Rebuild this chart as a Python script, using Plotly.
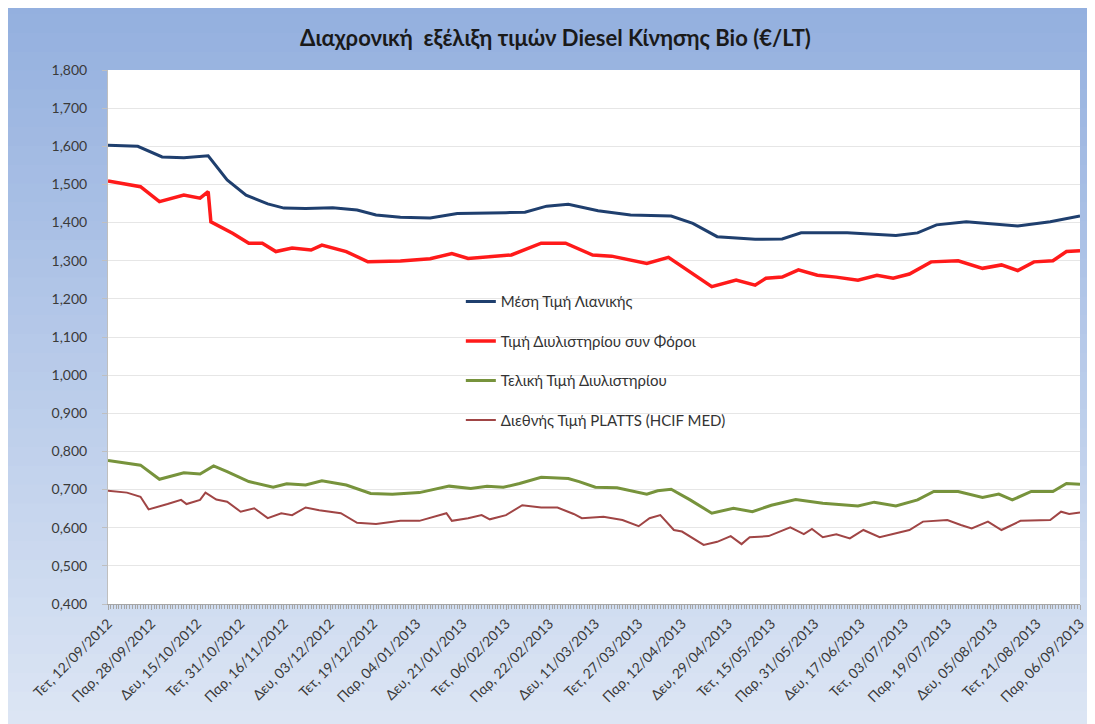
import plotly.graph_objects as go

# ---------------- data ----------------
retail_dates = ["2012-09-12", "2012-09-23", "2012-10-02", "2012-10-10", "2012-10-19", "2012-10-26",
                "2012-11-02", "2012-11-10", "2012-11-16", "2012-11-24", "2012-12-04", "2012-12-13",
                "2012-12-20", "2012-12-29", "2013-01-09", "2013-01-19", "2013-02-06", "2013-02-13",
                "2013-02-21", "2013-03-01", "2013-03-12", "2013-03-24", "2013-04-08", "2013-04-16",
                "2013-04-25", "2013-05-09", "2013-05-19", "2013-05-26", "2013-06-12", "2013-06-30",
                "2013-07-08", "2013-07-15", "2013-07-26", "2013-08-14", "2013-08-26", "2013-09-06"]
retail = [1.603, 1.600, 1.572, 1.570, 1.575, 1.512,
          1.472, 1.449, 1.438, 1.437, 1.439, 1.433,
          1.420, 1.414, 1.412, 1.424, 1.426, 1.427,
          1.443, 1.448, 1.431, 1.420, 1.417, 1.398,
          1.363, 1.356, 1.357, 1.373, 1.373, 1.366,
          1.373, 1.394, 1.402, 1.391, 1.402, 1.417]

refinery_tax_dates = ["2012-09-12", "2012-09-24", "2012-10-01", "2012-10-10", "2012-10-16", "2012-10-19",
                      "2012-10-20", "2012-10-28", "2012-11-03", "2012-11-08", "2012-11-13", "2012-11-19",
                      "2012-11-26", "2012-11-30", "2012-12-09", "2012-12-17", "2012-12-29", "2013-01-09",
                      "2013-01-17", "2013-01-23", "2013-02-08", "2013-02-19", "2013-02-28", "2013-03-10",
                      "2013-03-17", "2013-03-30", "2013-04-07", "2013-04-16", "2013-04-23", "2013-05-02",
                      "2013-05-09", "2013-05-13", "2013-05-19", "2013-05-25", "2013-06-01", "2013-06-08",
                      "2013-06-16", "2013-06-23", "2013-06-29", "2013-07-05", "2013-07-13", "2013-07-23",
                      "2013-08-01", "2013-08-08", "2013-08-14", "2013-08-20", "2013-08-27", "2013-09-01",
                      "2013-09-06"]
refinery_tax = [1.509, 1.494, 1.455, 1.472, 1.464, 1.481,
                1.402, 1.372, 1.346, 1.346, 1.324, 1.333,
                1.328, 1.341, 1.324, 1.297, 1.299, 1.305,
                1.319, 1.306, 1.315, 1.346, 1.346, 1.315,
                1.312, 1.293, 1.309, 1.267, 1.232, 1.249,
                1.236, 1.254, 1.257, 1.276, 1.262, 1.257,
                1.249, 1.262, 1.254, 1.265, 1.297, 1.300,
                1.280, 1.289, 1.274, 1.297, 1.300, 1.324,
                1.326]

refinery_final_dates = ["2012-09-12", "2012-09-24", "2012-10-01", "2012-10-10", "2012-10-16", "2012-10-21",
                        "2012-10-26", "2012-11-03", "2012-11-12", "2012-11-17", "2012-11-24", "2012-11-30",
                        "2012-12-09", "2012-12-18", "2012-12-26", "2013-01-05", "2013-01-16", "2013-01-24",
                        "2013-01-30", "2013-02-05", "2013-02-11", "2013-02-19", "2013-03-01", "2013-03-05",
                        "2013-03-11", "2013-03-19", "2013-03-30", "2013-04-03", "2013-04-08", "2013-04-15",
                        "2013-04-23", "2013-05-01", "2013-05-08", "2013-05-15", "2013-05-24", "2013-06-03",
                        "2013-06-16", "2013-06-22", "2013-06-30", "2013-07-08", "2013-07-14", "2013-07-23",
                        "2013-08-01", "2013-08-07", "2013-08-12", "2013-08-19", "2013-08-27", "2013-09-01",
                        "2013-09-06"]
refinery_final = [0.776, 0.764, 0.727, 0.744, 0.741, 0.762,
                  0.747, 0.721, 0.706, 0.715, 0.712, 0.723,
                  0.712, 0.690, 0.688, 0.692, 0.709, 0.703,
                  0.709, 0.706, 0.716, 0.732, 0.729, 0.721,
                  0.706, 0.705, 0.688, 0.697, 0.701, 0.673,
                  0.638, 0.651, 0.642, 0.659, 0.674, 0.664,
                  0.657, 0.667, 0.657, 0.673, 0.695, 0.695,
                  0.679, 0.688, 0.673, 0.695, 0.695, 0.716,
                  0.714]

platts_dates = ["2012-09-12", "2012-09-19", "2012-09-24", "2012-09-27", "2012-10-04", "2012-10-09",
                "2012-10-11", "2012-10-16", "2012-10-18", "2012-10-22", "2012-10-26", "2012-10-31",
                "2012-11-05", "2012-11-10", "2012-11-15", "2012-11-19", "2012-11-24", "2012-11-29",
                "2012-12-07", "2012-12-13", "2012-12-20", "2012-12-29", "2013-01-05", "2013-01-10",
                "2013-01-15", "2013-01-17", "2013-01-23", "2013-01-28", "2013-01-31", "2013-02-06",
                "2013-02-12", "2013-02-19", "2013-02-25", "2013-03-03", "2013-03-06", "2013-03-14",
                "2013-03-21", "2013-03-27", "2013-03-31", "2013-04-04", "2013-04-09", "2013-04-12",
                "2013-04-20", "2013-04-25", "2013-04-30", "2013-05-04", "2013-05-07", "2013-05-14",
                "2013-05-22", "2013-05-27", "2013-05-30", "2013-06-03", "2013-06-08", "2013-06-13",
                "2013-06-18", "2013-06-24", "2013-06-30", "2013-07-05", "2013-07-10", "2013-07-19",
                "2013-07-24", "2013-07-28", "2013-08-03", "2013-08-08", "2013-08-15", "2013-08-26",
                "2013-08-30", "2013-09-02", "2013-09-06"]
platts = [0.697, 0.692, 0.681, 0.648, 0.662, 0.673,
          0.662, 0.673, 0.692, 0.674, 0.668, 0.642,
          0.651, 0.625, 0.638, 0.633, 0.653, 0.646,
          0.638, 0.613, 0.610, 0.618, 0.618, 0.629,
          0.638, 0.618, 0.625, 0.633, 0.622, 0.633,
          0.659, 0.653, 0.653, 0.636, 0.625, 0.629,
          0.620, 0.604, 0.625, 0.633, 0.594, 0.590,
          0.555, 0.563, 0.578, 0.557, 0.575, 0.578,
          0.601, 0.583, 0.597, 0.575, 0.583, 0.572,
          0.594, 0.575, 0.585, 0.594, 0.616, 0.620,
          0.607, 0.598, 0.616, 0.594, 0.618, 0.620,
          0.642, 0.636, 0.640]

series_names = ["Μέση Τιμή Λιανικής", "Τιμή Διυλιστηρίου συν Φόροι",
                "Τελική Τιμή Διυλιστηρίου", "Διεθνής Τιμή PLATTS (HCIF MED)"]

tick_dates = ["2012-09-12", "2012-09-28", "2012-10-15", "2012-10-31", "2012-11-16", "2012-12-03",
              "2012-12-19", "2013-01-04", "2013-01-21", "2013-02-06", "2013-02-22", "2013-03-11",
              "2013-03-27", "2013-04-12", "2013-04-29", "2013-05-15", "2013-05-31", "2013-06-17",
              "2013-07-03", "2013-07-19", "2013-08-05", "2013-08-21", "2013-09-06"]
tick_labels = ["Τετ, 12/09/2012", "Παρ, 28/09/2012", "Δευ, 15/10/2012", "Τετ, 31/10/2012",
               "Παρ, 16/11/2012", "Δευ, 03/12/2012", "Τετ, 19/12/2012", "Παρ, 04/01/2013",
               "Δευ, 21/01/2013", "Τετ, 06/02/2013", "Παρ, 22/02/2013", "Δευ, 11/03/2013",
               "Τετ, 27/03/2013", "Παρ, 12/04/2013", "Δευ, 29/04/2013", "Τετ, 15/05/2013",
               "Παρ, 31/05/2013", "Δευ, 17/06/2013", "Τετ, 03/07/2013", "Παρ, 19/07/2013",
               "Δευ, 05/08/2013", "Τετ, 21/08/2013", "Παρ, 06/09/2013"]

title_text = "Διαχρονική  εξέλιξη τιμών Diesel Κίνησης Bio (€/LT)"

# ---------------- styles ----------------
FONT = "Lato, 'Open Sans', sans-serif"
colors = ["#1f3f6e", "#ff1a1a", "#77933c", "#a04545"]
widths = [3, 3.5, 3, 2]

fig = go.Figure()
all_x = [retail_dates, refinery_tax_dates, refinery_final_dates, platts_dates]
all_y = [retail, refinery_tax, refinery_final, platts]
for i, (xs, ys) in enumerate(zip(all_x, all_y)):
    fig.add_trace(go.Scatter(
        x=xs, y=ys, mode="lines", name=series_names[i],
        legendgroup=f"g{i}",
        line=dict(color=colors[i], width=widths[i], shape="linear"),
        hoverinfo="x+y",
    ))

# background gradient (decoration)
shapes = []
n = 40
top_c = (148, 176, 223)
bot_c = (222, 231, 245)
y_hi, y_lo = 1.14, -0.27
for k in range(n):
    t = k / (n - 1)
    c = tuple(int(top_c[j] + (bot_c[j] - top_c[j]) * t) for j in range(3))
    shapes.append(dict(type="rect", xref="paper", yref="paper", layer="below",
                       x0=-0.2, x1=1.1,
                       y0=y_hi - (k + 1) * (y_hi - y_lo) / n - 0.003,
                       y1=y_hi - k * (y_hi - y_lo) / n, line=dict(width=0),
                       fillcolor=f"rgb{c}"))
# white plot area
shapes.append(dict(type="rect", xref="x domain", yref="y domain", layer="below",
                   x0=0, x1=1, y0=0, y1=1, line=dict(width=0), fillcolor="white"))
fig.update_layout(shapes=shapes)

fig.update_layout(
    width=1095, height=724,
    margin=dict(l=100, r=23, t=62, b=128, autoexpand=False),
    paper_bgcolor="#c6d5ee",
    plot_bgcolor="white",
    separators=", ",
    font=dict(family=FONT, size=14, color="#404040"),
    title=dict(text=f"<b>{title_text}</b>", x=0.5, xanchor="center", xref="container",
               y=1 - 30 / 724, yanchor="middle", yref="container",
               font=dict(family=FONT, size=22, color="#1a1a1a")),
    showlegend=True,
    legend=dict(x=0.363, y=0.597, xanchor="left", yanchor="top",
                bgcolor="rgba(0,0,0,0)", traceorder="grouped", tracegroupgap=17,
                font=dict(family=FONT, size=15, color="#333333"), itemwidth=30),
    hovermode="closest",
)

fig.update_yaxes(
    range=[0.4, 1.8], dtick=0.1, tick0=0.4, tickformat=".3f",
    showgrid=True, gridcolor="#e6e6e6", gridwidth=1,
    showline=True, linecolor="#bfbfbf", linewidth=1,
    ticks="outside", ticklen=5, tickcolor="#bfbfbf", ticklabelstandoff=12,
    tickfont=dict(family=FONT, size=14, color="#3a3a3a"),
    zeroline=False, fixedrange=True, automargin=False,
)
fig.update_xaxes(
    type="date", range=["2012-09-12", "2013-09-06"],
    tickmode="array", tickvals=tick_dates, ticktext=tick_labels,
    tickangle=-45, tickfont=dict(family=FONT, size=14, color="#3a3a3a"),
    showgrid=False, showline=True, linecolor="#a6a6a6", linewidth=1,
    ticks="outside", ticklen=5, tickcolor="#a6a6a6",
    minor=dict(ticks="outside", ticklen=4, tickcolor="#a6a6a6", dtick=86400000, showgrid=False),
    zeroline=False, automargin=False,
)

fig.write_html("out.html")
